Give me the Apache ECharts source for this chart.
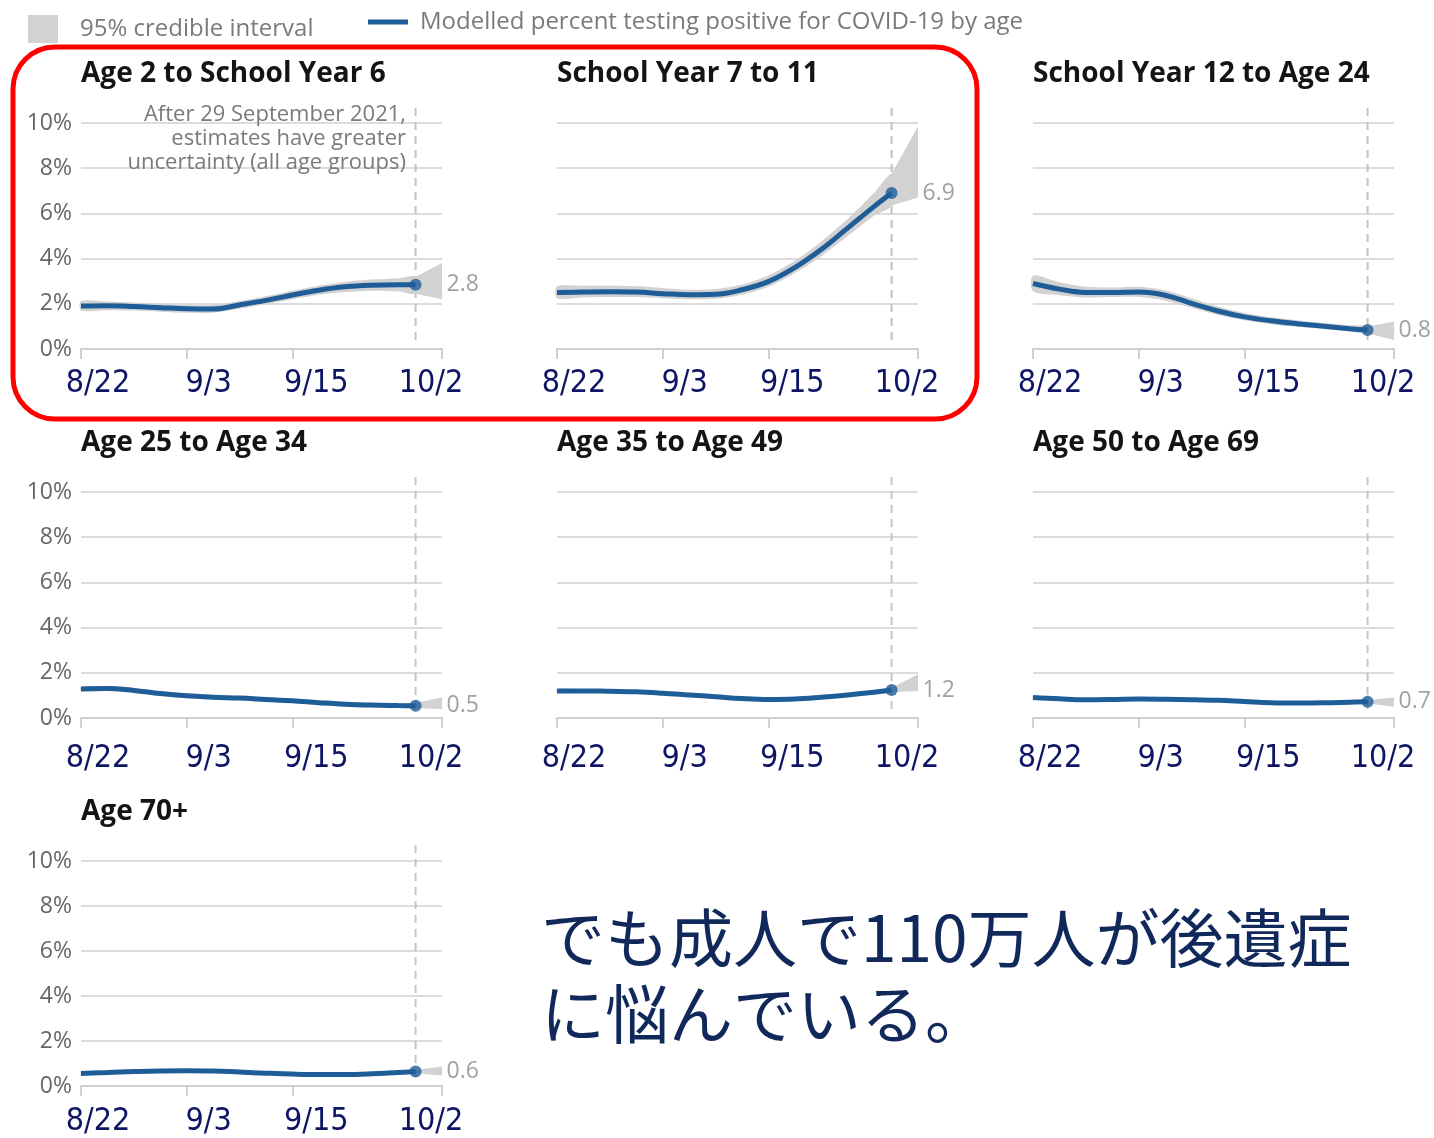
<!DOCTYPE html>
<html>
<head>
<meta charset="utf-8">
<script src="https://cdn.jsdelivr.net/npm/echarts@6/dist/echarts.min.js"></script>
<style>
html,body{margin:0;padding:0;background:#fff;}
#main{width:1434px;height:1138px;}
</style>
</head>
<body>
<div id="main"></div>
<script>
// ---------- DATA ----------
// days counted from 22 August 2021 (day 0)
const days = [0, 3, 6, 9, 12, 15, 18, 21, 24, 27, 30, 33, 36, 38];
const bandDays = [0, 3, 6, 9, 12, 15, 18, 21, 24, 27, 30, 33, 36, 38, 41];
const cutoffDay = 38; // 29 September 2021
const tickDays = [0, 12, 24, 41];
const tickLabels = ['8/22', '9/3', '9/15', '10/2'];
const yTicks = [0, 2, 4, 6, 8, 10];

const panelTitles = [
  'Age 2 to School Year 6', 'School Year 7 to 11', 'School Year 12 to Age 24',
  'Age 25 to Age 34', 'Age 35 to Age 49', 'Age 50 to Age 69', 'Age 70+'
];

const age2toY6 = [1.90, 1.91, 1.88, 1.83, 1.78, 1.77, 1.95, 2.15, 2.39, 2.60, 2.75, 2.82, 2.84, 2.84];
const age2toY6Low = [1.70, 1.72, 1.70, 1.65, 1.60, 1.60, 1.78, 1.98, 2.20, 2.40, 2.52, 2.58, 2.55, 2.45, 2.20];
const age2toY6High = [2.12, 2.10, 2.06, 2.00, 1.95, 1.95, 2.12, 2.33, 2.58, 2.80, 2.97, 3.07, 3.13, 3.20, 3.80];

const y7to11 = [2.50, 2.52, 2.53, 2.52, 2.45, 2.40, 2.42, 2.62, 2.98, 3.60, 4.40, 5.35, 6.30, 6.90];
const y7to11Low = [2.25, 2.28, 2.30, 2.30, 2.25, 2.20, 2.22, 2.40, 2.75, 3.35, 4.10, 5.00, 5.90, 6.35, 6.70];
const y7to11High = [2.78, 2.80, 2.80, 2.78, 2.70, 2.62, 2.65, 2.85, 3.25, 3.90, 4.75, 5.75, 6.90, 7.75, 9.85];

const y12to24 = [2.90, 2.65, 2.50, 2.50, 2.52, 2.38, 2.02, 1.68, 1.42, 1.25, 1.12, 1.01, 0.90, 0.84];
const y12to24Low = [2.55, 2.38, 2.28, 2.30, 2.30, 2.15, 1.82, 1.50, 1.27, 1.10, 0.98, 0.88, 0.77, 0.70, 0.40];
const y12to24High = [3.25, 2.95, 2.75, 2.72, 2.75, 2.60, 2.25, 1.88, 1.60, 1.40, 1.27, 1.15, 1.05, 1.00, 1.21];

const age25to34 = [1.28, 1.30, 1.22, 1.08, 0.98, 0.92, 0.88, 0.82, 0.76, 0.68, 0.61, 0.57, 0.55, 0.54];
const age25to34Low = [1.18, 1.20, 1.12, 0.98, 0.88, 0.82, 0.78, 0.72, 0.66, 0.58, 0.51, 0.47, 0.45, 0.44, 0.40];
const age25to34High = [1.38, 1.40, 1.32, 1.18, 1.08, 1.02, 0.98, 0.92, 0.86, 0.78, 0.71, 0.67, 0.65, 0.66, 0.92];

const age35to49 = [1.20, 1.20, 1.18, 1.16, 1.10, 1.02, 0.94, 0.86, 0.82, 0.84, 0.92, 1.02, 1.14, 1.24];
const age35to49Low = [1.12, 1.12, 1.10, 1.08, 1.02, 0.94, 0.86, 0.78, 0.74, 0.76, 0.84, 0.94, 1.06, 1.14, 1.20];
const age35to49High = [1.28, 1.28, 1.26, 1.24, 1.18, 1.10, 1.02, 0.94, 0.90, 0.92, 1.00, 1.10, 1.22, 1.34, 1.94];

const age50to69 = [0.91, 0.85, 0.81, 0.82, 0.84, 0.83, 0.81, 0.78, 0.73, 0.68, 0.66, 0.67, 0.70, 0.72];
const age50to69Low = [0.84, 0.78, 0.74, 0.75, 0.77, 0.76, 0.74, 0.71, 0.66, 0.61, 0.59, 0.60, 0.63, 0.64, 0.50];
const age50to69High = [0.98, 0.92, 0.88, 0.89, 0.91, 0.90, 0.88, 0.85, 0.80, 0.75, 0.73, 0.74, 0.77, 0.80, 0.91];

const age70plus = [0.56, 0.60, 0.64, 0.67, 0.68, 0.67, 0.62, 0.57, 0.53, 0.51, 0.51, 0.54, 0.60, 0.64];
const age70plusLow = [0.50, 0.54, 0.58, 0.61, 0.62, 0.61, 0.56, 0.51, 0.47, 0.45, 0.45, 0.48, 0.54, 0.57, 0.47];
const age70plusHigh = [0.62, 0.66, 0.70, 0.73, 0.74, 0.73, 0.68, 0.63, 0.59, 0.57, 0.57, 0.60, 0.66, 0.71, 0.87];

const legendBand = '95% credible interval';
const legendLine = 'Modelled percent testing positive for COVID-19 by age';
const noteText = 'After 29 September 2021,\nestimates have greater\nuncertainty (all age groups)';
const captionText = 'でも成人で110万人が後遺症\nに悩んでいる。';

// ---------- LAYOUT / STYLE ----------
const panels = [
  {line: age2toY6, low: age2toY6Low, high: age2toY6High},
  {line: y7to11, low: y7to11Low, high: y7to11High},
  {line: y12to24, low: y12to24Low, high: y12to24High},
  {line: age25to34, low: age25to34Low, high: age25to34High},
  {line: age35to49, low: age35to49Low, high: age35to49High},
  {line: age50to69, low: age50to69Low, high: age50to69High},
  {line: age70plus, low: age70plusLow, high: age70plusHigh}
];
const colLeft = [81, 557, 1033];
const rowTop = [123, 492, 861];
const rowLabelMargin = [19, 25, 20];
const gridW = 361, gridH = 226;
const LINE_COLOR = '#1f5d98';
const BAND_COLOR = '#d2d2d2';
const XLAB_COLOR = '#0f1565';
const XLAB_FONT = '"DejaVu Sans Condensed", "Liberation Sans Narrow", "Roboto", sans-serif';
const XLAB_SIZE = 32;

const chart = echarts.init(document.getElementById('main'));

const grids = [], xAxes = [], yAxes = [], series = [], titles = [];

function richTok(padding) {
  return {fontFamily: XLAB_FONT, fontSize: XLAB_SIZE, color: XLAB_COLOR, padding: padding};
}

panels.forEach((p, i) => {
  const col = i % 3, row = Math.floor(i / 3);
  grids.push({left: colLeft[col], top: rowTop[row], width: gridW, height: gridH, containLabel: false});
  titles.push({
    text: panelTitles[i], left: colLeft[col], top: rowTop[row] - 63, padding: 0,
    textStyle: {fontFamily: 'Open Sans', fontWeight: 'bold', fontSize: 28, color: '#141414'}
  });
  xAxes.push({
    type: 'value', gridIndex: i, min: 0, max: 41,
    axisLine: {show: true, lineStyle: {color: '#cfcfcf', width: 2}},
    axisTick: {show: true, customValues: tickDays, length: 10, lineStyle: {color: '#cfcfcf', width: 2}},
    splitLine: {show: false},
    axisLabel: {
      show: true, customValues: tickDays, margin: rowLabelMargin[row],
      fontFamily: XLAB_FONT, fontSize: XLAB_SIZE, color: XLAB_COLOR,
      formatter: function (v) {
        const k = tickDays.indexOf(Math.round(v));
        return k < 0 ? '' : '{t' + k + '|' + tickLabels[k] + '}';
      },
      rich: {
        t0: richTok([0, 0, 0, 34]),
        t1: richTok([0, 0, 0, 44]),
        t2: richTok([0, 0, 0, 48]),
        t3: richTok([0, 22, 0, 0])
      }
    }
  });
  yAxes.push({
    type: 'value', gridIndex: i, min: yTicks[0], max: yTicks[yTicks.length - 1], interval: 2,
    axisLine: {show: false}, axisTick: {show: false},
    splitLine: {show: true, lineStyle: {color: '#dcdcdc', width: 2}},
    axisLabel: {
      show: col === 0, formatter: '{value}%', margin: 9,
      fontFamily: 'Open Sans', fontSize: 23, color: '#666666'
    }
  });
  // dashed cutoff line
  series.push({
    type: 'line', xAxisIndex: i, yAxisIndex: i, silent: true, clip: false,
    symbol: 'none', data: [[cutoffDay, 0.4], [cutoffDay, 10.7]],
    lineStyle: {color: '#c4c4c4', width: 2, type: [8, 6]}, z: 1
  });
  // credible interval band
  series.push({
    type: 'custom', name: legendBand, xAxisIndex: i, yAxisIndex: i, silent: true,
    itemStyle: {color: BAND_COLOR},
    data: bandDays.map((d, k) => [d, p.low[k], p.high[k]]),
    encode: {x: 0, y: [1, 2]},
    renderItem: function (params, api) {
      if (params.dataIndex !== 0) return null;
      const n = bandDays.length;
      const main = [], fan = [];
      for (let k = 0; k < n - 1; k++) main.push(api.coord([bandDays[k], p.high[k]]));
      for (let k = n - 2; k >= 0; k--) main.push(api.coord([bandDays[k], p.low[k]]));
      fan.push(api.coord([bandDays[n - 2], p.high[n - 2]]));
      fan.push(api.coord([bandDays[n - 1], p.high[n - 1]]));
      fan.push(api.coord([bandDays[n - 1], p.low[n - 1]]));
      fan.push(api.coord([bandDays[n - 2], p.low[n - 2]]));
      return {
        type: 'group',
        children: [
          {type: 'polygon', shape: {points: main, smooth: 0.3}, style: {fill: BAND_COLOR}},
          {type: 'polygon', shape: {points: fan}, style: {fill: BAND_COLOR}}
        ]
      };
    },
    z: 2
  });
  // modelled line
  series.push({
    type: 'line', name: legendLine, xAxisIndex: i, yAxisIndex: i, silent: true,
    smooth: 0.4, symbol: 'none',
    data: days.map((d, k) => [d, p.line[k]]),
    lineStyle: {color: LINE_COLOR, width: 5}, itemStyle: {color: LINE_COLOR}, z: 3
  });
  // end point + value label
  const last = p.line.length - 1;
  series.push({
    type: 'scatter', xAxisIndex: i, yAxisIndex: i, silent: true,
    symbolSize: 12, itemStyle: {color: LINE_COLOR},
    data: [[days[last], p.line[last]]],
    label: {
      show: true, position: 'right', distance: 25,
      formatter: (o) => o.value[1].toFixed(1),
      fontFamily: 'Open Sans', fontSize: 23, color: '#8a8a8a'
    },
    z: 4
  });
});

const option = {
  backgroundColor: '#ffffff',
  animation: false,
  title: titles,
  legend: [
    {
      data: [{name: legendBand, icon: 'rect'}], left: 28, top: 15,
      itemWidth: 30, itemHeight: 28, selectedMode: false, padding: 0,
      textStyle: {fontFamily: 'Open Sans', fontSize: 24, color: '#7a7a7a', padding: [0, 0, 14, 17]}
    },
    {
      data: [{name: legendLine, icon: 'path://M0,0h40v5h-40z', itemStyle: {color: LINE_COLOR}}],
      left: 368, top: 10, padding: 0,
      itemWidth: 40, itemHeight: 5, selectedMode: false,
      textStyle: {fontFamily: 'Open Sans', fontSize: 24, color: '#7a7a7a', padding: [8, 0, 0, 7]}
    }
  ],
  grid: grids,
  xAxis: xAxes,
  yAxis: yAxes,
  series: series,
  graphic: [
    {
      type: 'rect', silent: true,
      shape: {x: 13, y: 47, width: 964, height: 372, r: 42},
      style: {fill: 'none', stroke: '#ff0000', lineWidth: 5}, z: 100
    },
    {
      type: 'text', silent: true, right: 1434 - 406, top: 103,
      style: {
        text: noteText, fill: '#7a7a7a', font: '22px "Open Sans"',
        textAlign: 'right', lineHeight: 24
      }, z: 50
    },
    {
      type: 'text', silent: true, left: 541, top: 900,
      style: {
        text: captionText, fill: '#10285a',
        font: '64px "Noto Sans CJK JP"', lineHeight: 76
      }, z: 50
    }
  ]
};
chart.setOption(option);
</script>
</body>
</html>
